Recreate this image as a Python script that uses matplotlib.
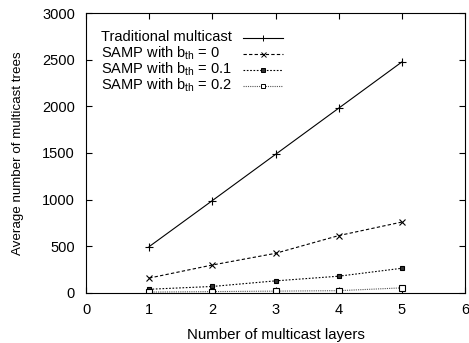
import numpy as np
import matplotlib.pyplot as plt

plt.rcParams['font.family'] = ['Liberation Sans', 'DejaVu Sans']
plt.rcParams['mathtext.fontset'] = 'custom'
plt.rcParams['mathtext.rm'] = 'Liberation Sans'
plt.rcParams['mathtext.it'] = 'Liberation Sans'

layers = [1, 2, 3, 4, 5]
traditional = [497, 990, 1485, 1980, 2475]
samp_0 = [160, 300, 425, 615, 760]
samp_01 = [40, 70, 130, 180, 265]
samp_02 = [10, 15, 20, 25, 55]
labels = ['Traditional multicast', r'SAMP with b$_{\rm th}$ = 0',
          r'SAMP with b$_{\rm th}$ = 0.1', r'SAMP with b$_{\rm th}$ = 0.2']

styles = [
    dict(ls='-', color='black', marker='+', ms=5.5, mew=0.8),
    dict(ls=(0, (3, 2)), color='black', marker='x', ms=4.5, mew=0.8),
    dict(ls=(0, (1.5, 1.5)), color='black', marker='s', ms=3.5, mew=0.8, mfc='#333333'),
    dict(ls=(0, (1, 1)), color='#555555', marker='s', ms=4, mew=0.8, mfc='white', mec='black'),
]

fig = plt.figure(figsize=(4.69, 3.43), dpi=100)
ax = fig.add_axes([86 / 469, 1 - 293 / 343, (465 - 86) / 469, (293 - 13) / 343])

for ys, st in zip([traditional, samp_0, samp_01, samp_02], styles):
    ax.plot(layers, ys, lw=0.8, **st)

# gnuplot-style key: text first, sample after
rows = [0.912, 0.854, 0.796, 0.738]
for lab, st, yk in zip(labels, styles, rows):
    ax.text(0.04, yk - 0.013, lab, transform=ax.transAxes, fontsize=10.5, va='baseline', ha='left')
    ax.plot([0.414, 0.52], [yk, yk], transform=ax.transAxes, lw=0.8,
            **{k: v for k, v in st.items() if k not in ('marker', 'ms', 'mew', 'mfc', 'mec')})
    ms = st['ms'] * 0.8
    ax.plot([0.467], [yk], transform=ax.transAxes, ls='none', marker=st['marker'], ms=ms,
            mew=0.7, mfc=st.get('mfc', 'black'), mec=st.get('mec', st['color']), color=st['color'])

ax.set_xlim(0, 6)
ax.set_ylim(0, 3000)
ax.set_xticks(range(0, 7))
ax.set_yticks(range(0, 3001, 500))
ax.tick_params(direction='in', top=True, right=True, labelsize=10.5, length=4, width=0.8)
ax.tick_params(axis='x', pad=7)
ax.tick_params(axis='y', pad=8)
for s in ax.spines.values():
    s.set_linewidth(0.8)
ax.set_xlabel('Number of multicast layers', fontsize=10.8, labelpad=8)
ax.set_ylabel('Average number of multicast trees', fontsize=9.6, labelpad=13)

fig.savefig('out.png', dpi=100)
